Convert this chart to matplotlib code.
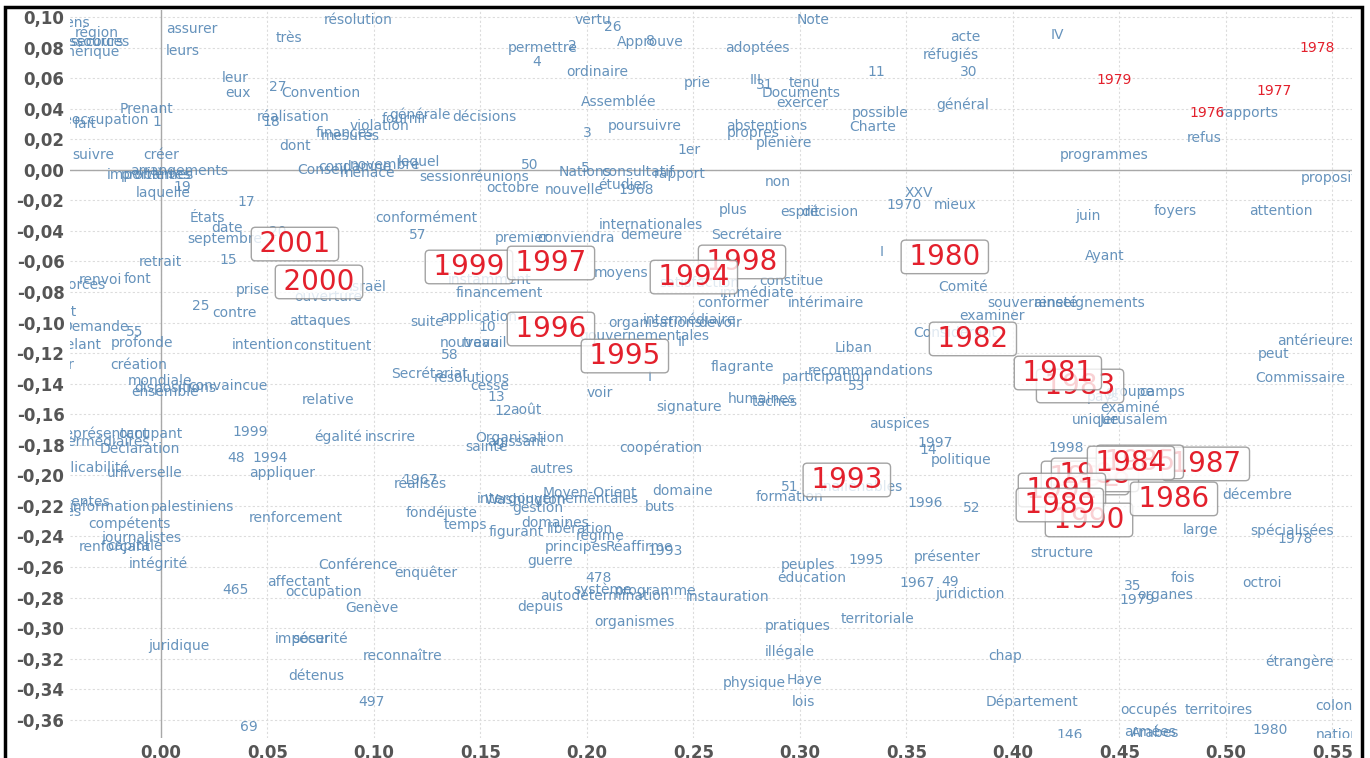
import matplotlib
matplotlib.use("Agg")
import matplotlib.pyplot as plt
from matplotlib.patches import Rectangle
from matplotlib.ticker import MultipleLocator, FuncFormatter

# mots (colonnes) : libellés et coordonnées sur les axes 1 et 2
mots = [
    "moyens", "région", "ressources", "secours", "Amérique", "assurer", "très", "leurs", "leur", "eux",
    "27", "Convention", "Prenant", "préoccupation", "fait", "1", "réalisation", "18", "dont", "finances",
    "mesures", "suivre", "créer", "arrangements", "importantes", "problèmes", "19", "laquelle", "17", "États",
    "date", "septembre", "20", "ce", "même", "résolution", "vertu", "26", "permettre", "2",
    "Approuve", "8", "4", "ordinaire", "Assemblée", "générale", "fournir", "décisions", "violation", "3",
    "poursuivre", "1er", "lequel", "Conseil", "novembre", "menace", "condamne", "50", "session", "réunions",
    "Nations", "consultatif", "rapport", "5", "octobre", "nouvelle", "1968", "étudier", "conformément", "57",
    "premier", "conviendra", "internationales", "demeure", "Note", "adoptées", "acte", "réfugiés", "11", "30",
    "prie", "III", "31", "tenu", "Documents", "exercer", "possible", "général", "abstentions", "propres",
    "Charte", "plénière", "non", "XXV", "1970", "mieux", "plus", "esprit", "décision", "Secrétaire",
    "I", "IV", "rapports", "refus", "programmes", "propositions", "juin", "foyers", "attention", "Ayant",
    "retrait", "15", "renvoi", "font", "forces", "prise", "ouverture", "Israël", "droit", "Demande",
    "55", "25", "contre", "attaques", "Rappelant", "profonde", "intention", "constituent", "pour", "création",
    "mondiale", "dispositions", "convaincue", "ensemble", "relative", "1999", "égalité", "inscrire", "représentant", "occupant",
    "intermédiaires", "Déclaration", "48", "1994", "applicabilité", "universelle", "appliquer", "instamment", "financement", "suite",
    "application", "10", "nouveau", "travail", "58", "Secrétariat", "résolutions", "cesse", "13", "12",
    "août", "Organisation", "sainte", "agissant", "autres", "1967", "réalisés", "intergouvernementales", "Washington", "Moyen-Orient",
    "domaine", "satisfaction", "constitue", "immédiate", "conformer", "intérimaire", "Comité", "souveraineté", "renseignements", "examiner",
    "organisations", "devoir", "intermédiaire", "gouvernementales", "II", "Considérant", "Liban", "flagrante", "recommandations", "participation",
    "53", "humaines", "tâches", "signature", "auspices", "1997", "14", "politique", "coopération", "51",
    "inaliénables", "formation", "1996", "52", "antérieures", "peut", "Commissaire", "pays", "groupe", "camps",
    "examiné", "unique", "Jérusalem", "1998", "décembre", "pertinentes", "information", "palestiniens", "civiles", "renforcement",
    "compétents", "journalistes", "renforçant", "capitale", "intégrité", "465", "affectant", "occupation", "juridique", "imposer",
    "sécurité", "détenus", "69", "fondé", "juste", "gestion", "buts", "temps", "figurant", "domaines",
    "libération", "régime", "principes", "Réaffirme", "1993", "Conférence", "enquêter", "guerre", "478", "autodétermination",
    "système", "programme", "instauration", "Genève", "depuis", "organismes", "reconnaître", "497", "peuples", "1995",
    "présenter", "éducation", "1967", "49", "juridiction", "territoriale", "pratiques", "illégale", "chap", "physique",
    "Haye", "lois", "Département", "large", "spécialisées", "1978", "structure", "fois", "octroi", "35",
    "organes", "1979", "étrangère", "occupés", "territoires", "colonies", "146", "armées", "Arabes", "1980",
    "nationaux", "I", "voir", "moyens",
]
mots_x = [
    -0.046, -0.030, -0.032, -0.030, -0.035, 0.0146, 0.060, 0.010, 0.035, 0.036,
    0.055, 0.075, -0.0066, -0.029, -0.0357, -0.002, 0.062, 0.052, 0.063, 0.0864,
    0.0887, -0.032, 0.000, 0.0085, -0.0056, -0.0019, 0.0099, 0.001, 0.040, 0.022,
    0.031, 0.030, 0.055, 0.056, 0.112, 0.0925, 0.203, 0.212, 0.179, 0.193,
    0.2296, 0.230, 0.1765, 0.2047, 0.215, 0.1216, 0.1146, 0.152, 0.1028, 0.200,
    0.227, 0.248, 0.121, 0.0756, 0.105, 0.097, 0.091, 0.173, 0.1333, 0.159,
    0.199, 0.224, 0.2437, 0.199, 0.165, 0.194, 0.223, 0.217, 0.1244, 0.1207,
    0.1695, 0.195, 0.230, 0.230, 0.306, 0.280, 0.3775, 0.371, 0.3357, 0.379,
    0.252, 0.279, 0.2836, 0.302, 0.3005, 0.301, 0.3376, 0.3765, 0.2845, 0.278,
    0.334, 0.2925, 0.2897, 0.356, 0.349, 0.373, 0.2685, 0.300, 0.314, 0.275,
    0.3385, 0.4207, 0.5108, 0.490, 0.443, 0.555, 0.435, 0.476, 0.526, 0.443,
    -0.0005, 0.0315, -0.0286, -0.011, -0.0357, 0.043, 0.0784, 0.097, -0.0474, -0.031,
    -0.0122, 0.0188, 0.0347, 0.0746, -0.0446, -0.0089, 0.048, 0.0807, -0.048, -0.0103,
    -0.0005, 0.0066, 0.0315, 0.0019, 0.0784, 0.0418, 0.083, 0.1075, -0.0263, -0.0052,
    -0.0286, -0.0099, 0.0352, 0.0512, -0.0347, -0.0075, 0.0568, 0.1545, 0.1587, 0.1249,
    0.1493, 0.153, 0.145, 0.152, 0.1357, 0.1263, 0.146, 0.1545, 0.1573, 0.1606,
    0.1714, 0.1685, 0.1526, 0.1667, 0.1831, 0.1216, 0.1216, 0.1864, 0.171, 0.2014,
    0.245, 0.253, 0.296, 0.280, 0.2685, 0.312, 0.3765, 0.409, 0.436, 0.390,
    0.232, 0.2624, 0.248, 0.227, 0.2446, 0.3728, 0.325, 0.2728, 0.3333, 0.312,
    0.3268, 0.282, 0.288, 0.248, 0.3465, 0.3634, 0.360, 0.3756, 0.2347, 0.2953,
    0.329, 0.2953, 0.3587, 0.3808, 0.5427, 0.5225, 0.5347, 0.4423, 0.455, 0.470,
    0.455, 0.439, 0.457, 0.425, 0.5146, -0.0423, -0.024, 0.0146, -0.0474, 0.0634,
    -0.0146, -0.0094, -0.0216, -0.0122, -0.0014, 0.0352, 0.0648, 0.0765, 0.0085, 0.0667,
    0.0746, 0.0728, 0.0413, 0.124, 0.1404, 0.177, 0.2343, 0.1427, 0.167, 0.185,
    0.1967, 0.206, 0.1948, 0.2244, 0.2366, 0.0925, 0.1244, 0.1826, 0.2052, 0.2085,
    0.2075, 0.232, 0.266, 0.099, 0.178, 0.2225, 0.1136, 0.099, 0.3038, 0.331,
    0.369, 0.3056, 0.355, 0.3704, 0.3798, 0.3366, 0.299, 0.2953, 0.3962, 0.2784,
    0.3023, 0.3014, 0.409, 0.4878, 0.531, 0.5324, 0.423, 0.480, 0.517, 0.4563,
    0.4714, 0.4582, 0.5343, 0.4638, 0.4967, 0.5554, 0.4268, 0.4643, 0.4667, 0.5207,
    0.5587, 0.2296, 0.206, 0.216,
]
mots_y = [
    0.096, 0.090, 0.0836, 0.0836, 0.077, 0.092, 0.086, 0.078, 0.060, 0.050,
    0.054, 0.050, 0.040, 0.0326, 0.030, 0.031, 0.0346, 0.031, 0.0156, 0.024,
    0.022, 0.010, 0.0097, -0.0008, -0.0034, -0.0034, -0.0113, -0.0152, -0.021, -0.0316,
    -0.038, -0.045, -0.041, 0.109, 0.108, 0.098, 0.098, 0.0935, 0.080, 0.081,
    0.0836, 0.084, 0.0706, 0.064, 0.0444, 0.0359, 0.0333, 0.0346, 0.0287, 0.024,
    0.0287, 0.013, 0.005, 0.000, 0.0031, -0.002, 0.002, 0.0031, -0.0047, -0.0047,
    -0.0014, -0.0014, -0.0027, 0.0012, -0.012, -0.0132, -0.0132, -0.010, -0.0315, -0.0427,
    -0.0446, -0.0446, -0.036, -0.0427, 0.098, 0.080, 0.087, 0.075, 0.064, 0.064,
    0.0568, 0.0588, 0.0555, 0.0568, 0.050, 0.0437, 0.0372, 0.0424, 0.0287, 0.0241,
    0.028, 0.0175, -0.008, -0.0152, -0.023, -0.023, -0.0263, -0.0276, -0.0276, -0.0427,
    -0.054, 0.088, 0.0372, 0.0208, 0.0097, -0.0054, -0.030, -0.027, -0.027, -0.0564,
    -0.0603, -0.059, -0.072, -0.0715, -0.0754, -0.0787, -0.083, -0.0767, -0.093, -0.103,
    -0.106, -0.089, -0.0937, -0.099, -0.1147, -0.1133, -0.1147, -0.1153, -0.128, -0.1278,
    -0.138, -0.1428, -0.1415, -0.1454, -0.1507, -0.1716, -0.175, -0.175, -0.1729, -0.1729,
    -0.178, -0.1827, -0.1886, -0.1886, -0.195, -0.1984, -0.1984, -0.072, -0.0806, -0.0996,
    -0.0963, -0.103, -0.1133, -0.1133, -0.1212, -0.1336, -0.1363, -0.1415, -0.1487, -0.1579,
    -0.1572, -0.1755, -0.1814, -0.1781, -0.1958, -0.203, -0.2056, -0.2154, -0.216, -0.2115,
    -0.2102, -0.074, -0.0728, -0.0806, -0.0872, -0.0872, -0.0767, -0.0872, -0.0872, -0.0957,
    -0.1003, -0.1003, -0.0983, -0.1088, -0.1127, -0.1068, -0.1166, -0.129, -0.1317, -0.1356,
    -0.1415, -0.150, -0.152, -0.1552, -0.1664, -0.1788, -0.1834, -0.190, -0.182, -0.2076,
    -0.2076, -0.2141, -0.218, -0.2213, -0.112, -0.1205, -0.1363, -0.1487, -0.1454, -0.1454,
    -0.1559, -0.1637, -0.1637, -0.182, -0.2128, -0.2174, -0.2207, -0.2207, -0.224, -0.2279,
    -0.2318, -0.241, -0.2469, -0.2462, -0.258, -0.275, -0.2698, -0.2763, -0.3116, -0.307,
    -0.307, -0.3313, -0.3647, -0.2246, -0.2246, -0.2213, -0.2207, -0.2325, -0.237, -0.2311,
    -0.235, -0.2397, -0.2469, -0.2469, -0.2495, -0.2586, -0.2639, -0.256, -0.2671, -0.2789,
    -0.275, -0.2757, -0.2796, -0.2868, -0.2861, -0.296, -0.3182, -0.3483, -0.2586, -0.2554,
    -0.2534, -0.2671, -0.2704, -0.2698, -0.2776, -0.294, -0.2986, -0.3156, -0.3182, -0.3359,
    -0.3339, -0.3483, -0.3483, -0.2357, -0.2364, -0.2416, -0.2508, -0.2671, -0.2704, -0.2724,
    -0.2783, -0.2815, -0.322, -0.3535, -0.3535, -0.3509, -0.370, -0.368, -0.3686, -0.3666,
    -0.370, -0.1356, -0.146, -0.0675,
]

# années (lignes) en grand, dans l'ordre de tracé
annees = ["2001", "2000", "1999", "1997", "1996", "1995", "1998", "1994", "1980", "1982",
          "1983", "1981", "1993", "1992", "1988", "1987", "1985", "1984", "1991", "1990",
          "1989", "1986"]
annees_x = [0.0629, 0.0742, 0.1446, 0.1831, 0.1831, 0.2178, 0.2728, 0.2502, 0.368, 0.3812,
            0.4315, 0.4211, 0.322, 0.4338, 0.4385, 0.4906, 0.4596, 0.4554, 0.423, 0.4357,
            0.422, 0.4756]
annees_y = [-0.0486, -0.0734, -0.0636, -0.061, -0.1042, -0.1219, -0.0603, -0.0702, -0.057, -0.1107,
            -0.1415, -0.133, -0.203, -0.2017, -0.1997, -0.1925, -0.1912, -0.1919, -0.2096, -0.2292,
            -0.2194, -0.2154]

# années en petit (rouge, sans cadre)
annees_petites = ["1978", "1979", "1977", "1976"]
petites_x = [0.5427, 0.4474, 0.5225, 0.491]
petites_y = [0.080, 0.0588, 0.0516, 0.0372]

assert len(mots) == len(mots_x) == len(mots_y)

BLEU = "#5587b5"
ROUGE = "#e3202c"

fig = plt.figure(figsize=(13.7, 7.58), dpi=100)
ax = fig.add_axes([0.0511, 0.0264, 0.9358, 0.9604])

ax.set_xlim(-0.0427, 0.5592)
ax.set_ylim(-0.3719, 0.1046)

ax.xaxis.set_major_locator(MultipleLocator(0.05))
ax.yaxis.set_major_locator(MultipleLocator(0.02))
fmt = FuncFormatter(lambda v, _: f"{round(v, 2) + 0.0:.2f}".replace(".", ","))
ax.xaxis.set_major_formatter(fmt)
ax.yaxis.set_major_formatter(fmt)
ax.tick_params(length=0, labelsize=12, labelcolor="#555555", pad=4)
for lab in ax.get_xticklabels() + ax.get_yticklabels():
    lab.set_fontweight("bold")

ax.grid(True, color="#dcdcdc", linestyle=(0, (2, 2)), linewidth=0.8)
ax.set_axisbelow(True)
ax.axhline(0, color="#a8a8a8", linewidth=1, zorder=1)
ax.axvline(0, color="#a8a8a8", linewidth=1, zorder=1)
for sp in ax.spines.values():
    sp.set_visible(False)

for m, x, y in zip(mots, mots_x, mots_y):
    ax.text(x, y, m, color=BLEU, fontsize=10, ha="center", va="center",
            alpha=0.9, clip_on=True, zorder=3)

for a, x, y in zip(annees_petites, petites_x, petites_y):
    ax.text(x, y, a, color=ROUGE, fontsize=10, ha="center", va="center",
            clip_on=True, zorder=3)

for i, (a, x, y) in enumerate(zip(annees, annees_x, annees_y)):
    ax.text(x, y, "\u2009" + a + "\u2009", color=ROUGE, fontsize=20, ha="center", va="center",
            clip_on=True, zorder=10 + i,
            bbox=dict(boxstyle="round,pad=0.1,rounding_size=0.15", facecolor="white",
                      edgecolor="#8c8c8c", linewidth=1.0, alpha=0.8))

# cadre noir autour de l'image
fig.add_artist(Rectangle((0.0036, -0.01), 0.9906, 1.0008, transform=fig.transFigure,
                         fill=False, edgecolor="black", linewidth=2.5))

fig.savefig("out.png", dpi=100)
